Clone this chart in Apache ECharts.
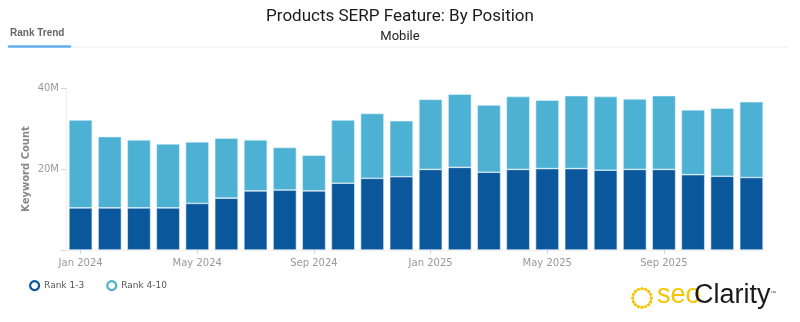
<!DOCTYPE html>
<html>
<head>
<meta charset="utf-8">
<script src="https://cdn.jsdelivr.net/npm/echarts@6/dist/echarts.min.js"></script>
<style>
html,body{margin:0;padding:0;background:#fff;}
#chart{width:800px;height:322px;}
</style>
</head>
<body>
<div id="chart"></div>
<script>
const categories = ['Jan 2024','Feb 2024','Mar 2024','Apr 2024','May 2024','Jun 2024','Jul 2024','Aug 2024','Sep 2024','Oct 2024','Nov 2024','Dec 2024',
  'Jan 2025','Feb 2025','Mar 2025','Apr 2025','May 2025','Jun 2025','Jul 2025','Aug 2025','Sep 2025','Oct 2025','Nov 2025','Dec 2025'];
// values in millions
const rank1to3 = [10.4,10.4,10.4,10.4,11.5,12.8,14.6,14.8,14.6,16.5,17.7,18.1,
  19.9,20.4,19.2,19.9,20.1,20.1,19.7,19.9,19.9,18.6,18.2,17.9];
const totals = [32.1,28.0,27.2,26.2,26.7,27.6,27.2,25.3,23.4,32.1,33.7,31.9,
  37.2,38.5,35.8,37.9,37.0,38.1,37.9,37.3,38.1,34.6,35.0,36.6];
const rank4to10 = totals.map((t,i)=>+(t - rank1to3[i]).toFixed(2));
const yTicks = [0, 20, 40];
const seriesNames = ['Rank 1-3','Rank 4-10'];
const colors = ['#0a579b','#4db1d3'];

const chart = echarts.init(document.getElementById('chart'));
const sunRays = [];
for (let i = 0; i < 16; i++) {
  const a = i / 16 * Math.PI * 2;
  sunRays.push({type:'circle', shape:{cx:642+Math.cos(a)*9.5, cy:298+Math.sin(a)*9.5, r:1.5}, style:{fill:'#f6c500'}});
}
sunRays.push({type:'circle', shape:{cx:642, cy:298, r:9}, style:{fill:'none', stroke:'#f6c500', lineWidth:1.2}});
chart.setOption({
  animation:false,
  textStyle:{fontFamily:'DejaVu Sans'},
  title:{
    text:'Products SERP Feature: By Position',
    subtext:'Mobile',
    left:'center', top:3,
    itemGap:5,
    textStyle:{fontFamily:'Roboto', fontSize:17, fontWeight:'normal', color:'#1a1a1a'},
    subtextStyle:{fontFamily:'Roboto', fontSize:13, color:'#222'}
  },
  legend:{
    left:24, top:275,
    itemWidth:9, itemHeight:9, itemGap:22,
    icon:'circle',
    textStyle:{fontSize:9, color:'#555', fontFamily:'DejaVu Sans'},
    data:seriesNames.map((n,i)=>({name:n, itemStyle:{color:'#fff', borderWidth:2.2, borderColor:colors[i]}}))
  },
  grid:{left:66, right:34, top:88, bottom:72},
  xAxis:{
    type:'category', data:categories,
    axisLine:{show:true, lineStyle:{color:'#f0f0f0'}},
    axisTick:{show:true, interval:3, alignWithLabel:true, length:4, lineStyle:{color:'#ccd6eb'}},
    axisLabel:{interval:3, color:'#999', fontSize:10, margin:8}
  },
  yAxis:{
    type:'value', min:0, max:40, interval:20,
    name:'Keyword Count', nameLocation:'middle', nameGap:35, nameMoveOverlap:false,
    nameTextStyle:{color:'#888', fontSize:10, fontWeight:'bold'},
    axisLine:{show:true, lineStyle:{color:'#eceff3'}},
    axisTick:{show:true, length:5, lineStyle:{color:'#ccd6eb'}},
    splitLine:{show:false},
    axisLabel:{color:'#999', fontSize:10, margin:7,
      formatter:v => (yTicks.includes(v) && v !== 0) ? v + 'M' : ''}
  },
  series:[
    {name:seriesNames[0], type:'bar', stack:'a', data:rank1to3, barCategoryGap:'20%',
     itemStyle:{color:colors[0], borderColor:'#e3eef8', borderWidth:0.6}},
    {name:seriesNames[1], type:'bar', stack:'a', data:rank4to10, barCategoryGap:'20%',
     itemStyle:{color:colors[1], borderColor:'#e3f2f8', borderWidth:0.6}}
  ],
  graphic:[
    {type:'text', left:10, top:28, style:{text:'Rank Trend', fill:'#666', font:'bold 10px "Liberation Sans"'}},
    {type:'line', shape:{x1:8, y1:47, x2:788, y2:47}, style:{stroke:'#eeeeee', lineWidth:1}},
    {type:'line', shape:{x1:9, y1:46.5, x2:70, y2:46.5}, style:{stroke:'#62adf0', lineWidth:2.5, lineCap:'round'}},
    {type:'group', children:sunRays},
    {type:'text', left:657, top:282, style:{text:'seo', fill:'#f6c500', font:'27px "Liberation Sans"'}},
    {type:'text', left:694, top:282, style:{text:'Clarity', fill:'#1a1a1a', font:'27px "Liberation Sans"'}},
    {type:'text', left:770, top:290, style:{text:'™', fill:'#555', font:'6px "Liberation Sans"'}}
  ]
});
</script>
</body>
</html>
